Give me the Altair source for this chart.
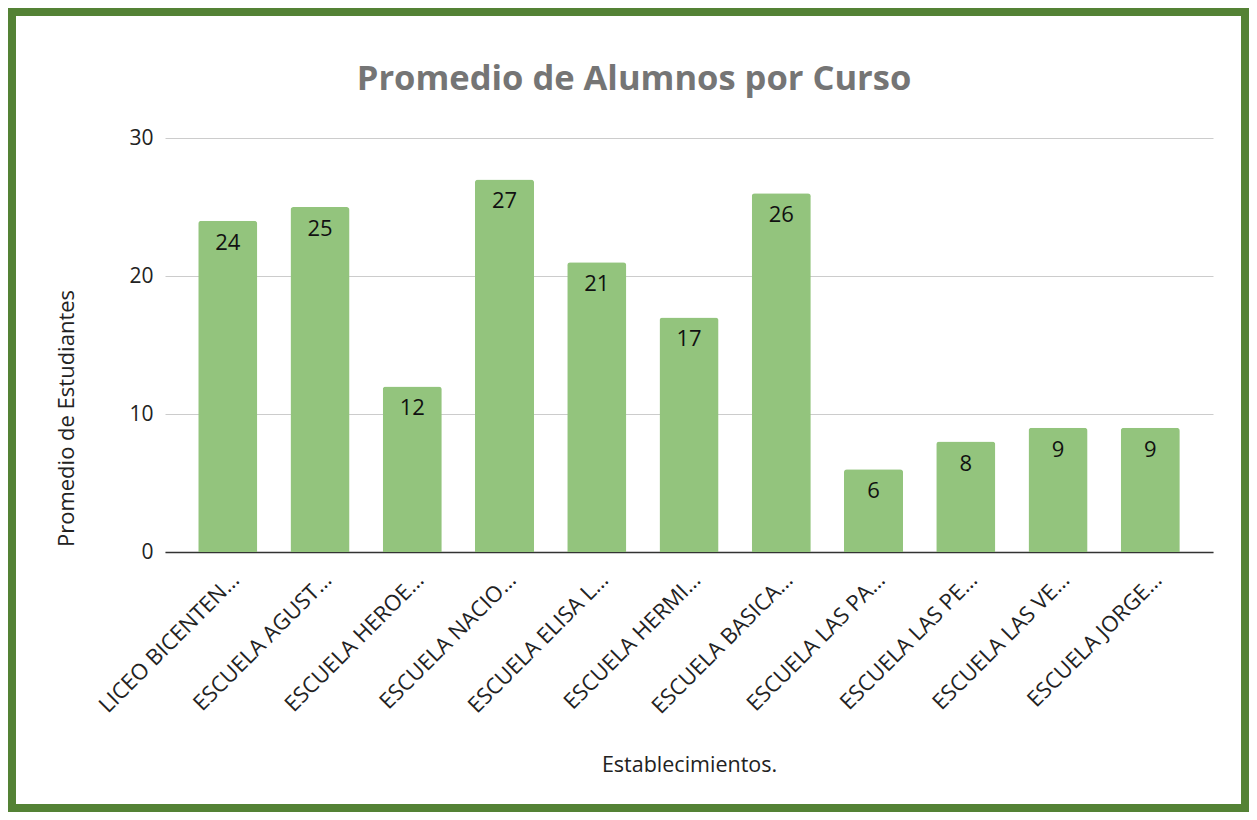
import altair as alt
import pandas as pd

categories = ["LICEO BICENTEN…", "ESCUELA AGUST…", "ESCUELA HEROE…", "ESCUELA NACIO…",
              "ESCUELA ELISA L…", "ESCUELA HERMI…", "ESCUELA BASICA…", "ESCUELA LAS PA…",
              "ESCUELA LAS PE…", "ESCUELA LAS VE…", "ESCUELA JORGE…"]
values = [24, 25, 12, 27, 21, 17, 26, 6, 8, 9, 9]
y_ticks = [0, 10, 20, 30]
title_text = "Promedio de Alumnos por Curso"

df = pd.DataFrame({"cat": categories, "val": values})

FONT = "Open Sans"

x_enc = alt.X("cat:N", sort=None,
              scale=alt.Scale(paddingInner=0.36, paddingOuter=0.36),
              axis=alt.Axis(title="Establecimientos.", labelAngle=-45, labelAlign="right",
                            labelBaseline="middle", labelPadding=24, labelOffset=8,
                            ticks=False, grid=False,
                            labelFontSize=22, labelColor="#222222", labelFont=FONT,
                            domainColor="#333333", domainWidth=1.5,
                            titleFont=FONT, titleFontSize=21.5, titleFontWeight="normal",
                            titleColor="#222222", titleY=213, titleBaseline="middle",
                            labelLimit=300))
y_enc = alt.Y("val:Q", scale=alt.Scale(domain=[0, 30], nice=False),
              axis=alt.Axis(title="Promedio de Estudiantes", values=y_ticks, ticks=False,
                            domain=False, labelPadding=12, labelFontSize=21,
                            labelColor="#222222", labelFont=FONT, gridColor="#cccccc",
                            titleFont=FONT, titleFontSize=22, titleFontWeight="normal",
                            titleColor="#222222", titleX=-99, titleY=280,
                            titleAngle=-90, titleBaseline="middle", titleAlign="center"))

base = alt.Chart(df).encode(x=x_enc, y=y_enc)

bars = base.mark_bar(color="#93c47d", cornerRadiusTopLeft=3, cornerRadiusTopRight=3)
labels = base.mark_text(baseline="top", dy=12, fontSize=22, font=FONT, color="#111111").encode(
    text="val:Q")

border = alt.Chart(pd.DataFrame({"a": [0]})).mark_rect(
    fill=None, stroke="#548235", strokeWidth=8).encode(
    x=alt.value(-153), x2=alt.value(1080), y=alt.value(-126), y2=alt.value(670))

title = alt.Chart(pd.DataFrame({"t": [title_text]})).mark_text(
    font=FONT, fontSize=34.5, fontWeight="bold", color="#757575",
    align="center", baseline="middle").encode(
    text="t:N", x=alt.value(469), y=alt.value(-58))

chart = alt.layer(bars, labels, border, title).properties(
    width=1048, height=414,
    autosize=alt.AutoSizeParams(type="none"),
    padding={"left": 157, "top": 130, "right": 36, "bottom": 260},
).configure(background="white").configure_view(stroke=None, strokeWidth=0)

chart.save("out.html", embed_options={"renderer": "svg", "actions": False})
